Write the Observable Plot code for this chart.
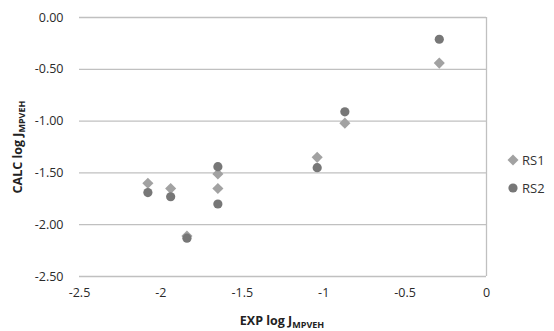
<!DOCTYPE html>
<html><head><meta charset="utf-8">
<script src="https://cdn.jsdelivr.net/npm/d3@7"></script>
<script src="https://cdn.jsdelivr.net/npm/@observablehq/plot@0.6"></script>
<style>
body{margin:0;background:#fff;font-family:"Open Sans","Liberation Sans",sans-serif;}
#wrap{position:relative;width:554px;height:331px;}
.lab{position:absolute;font-weight:bold;font-size:12.5px;color:#222;white-space:nowrap;}
.lab sub{font-size:9px;vertical-align:-3px;}
#legend{position:absolute;left:507px;top:146px;font-size:13px;color:#333;}
#legend div{display:flex;align-items:center;height:28px;}
#legend svg{margin-right:3px;}
</style></head>
<body><div id="wrap"></div>
<script>
const seriesNames = ["RS1", "RS2"];
const expX = [-2.08, -1.94, -1.84, -1.65, -1.65, -1.04, -0.87, -0.29];
const rs1 = [-1.60, -1.65, -2.11, -1.51, -1.65, -1.35, -1.02, -0.44];
const rs2 = [-1.69, -1.73, -2.13, -1.44, -1.80, -1.45, -0.91, -0.21];
const yTicks = [0, -0.5, -1, -1.5, -2, -2.5];
const xTicks = [-2.5, -2, -1.5, -1, -0.5, 0];
const colors = {RS1: "#a2a2a2", RS2: "#777777"};

const d1 = expX.map((x, i) => ({x, y: rs1[i]}));
const d2 = expX.map((x, i) => ({x, y: rs2[i]}));

const chart = Plot.plot({
  width: 554, height: 331,
  marginLeft: 79, marginRight: 68, marginTop: 17, marginBottom: 55,
  style: {fontFamily: "'Open Sans','Liberation Sans',sans-serif", fontSize: "12.5px", color: "#2a2a2a", background: "#fff"},
  x: {domain: [-2.5, 0], ticks: xTicks, tickFormat: d => String(d), tickSize: 0, tickPadding: 12, label: null},
  y: {domain: [-2.5, 0], ticks: yTicks, tickFormat: d => d.toFixed(2), tickSize: 0, tickPadding: 16, label: null},
  marks: [
    Plot.ruleY(yTicks, {stroke: "#c0c0c0", strokeWidth: 1.3}),
    Plot.ruleX([0], {stroke: "#c0c0c0", strokeWidth: 1.3}),
    Plot.dot(d1, {x: "x", y: "y", symbol: "diamond2", r: 5, fill: colors.RS1, stroke: null}),
    Plot.dot(d2, {x: "x", y: "y", symbol: "circle", r: 4.6, fill: colors.RS2, stroke: null})
  ]
});
const wrap = document.getElementById("wrap");
wrap.appendChild(chart);

const yl = document.createElement("div");
yl.className = "lab";
yl.innerHTML = "CALC log J<sub>MPVEH</sub>";
yl.style.left = "18px"; yl.style.top = "147px";
yl.style.transform = "translate(-50%,-50%) rotate(-90deg)";
wrap.appendChild(yl);

const xl = document.createElement("div");
xl.className = "lab";
xl.innerHTML = "EXP log J<sub>MPVEH</sub>";
xl.style.left = "282px"; xl.style.top = "321px";
xl.style.transform = "translate(-50%,-50%)";
wrap.appendChild(xl);

const lg = document.createElement("div");
lg.id = "legend";
seriesNames.forEach(n => {
  const row = document.createElement("div");
  const sym = n === "RS1"
    ? `<svg width="12" height="12"><path d="M6,0.5L11.5,6L6,11.5L0.5,6Z" fill="${colors.RS1}"/></svg>`
    : `<svg width="12" height="12"><circle cx="6" cy="6" r="4.6" fill="${colors.RS2}"/></svg>`;
  row.innerHTML = sym + "<span>" + n + "</span>";
  lg.appendChild(row);
});
wrap.appendChild(lg);
</script></body></html>
